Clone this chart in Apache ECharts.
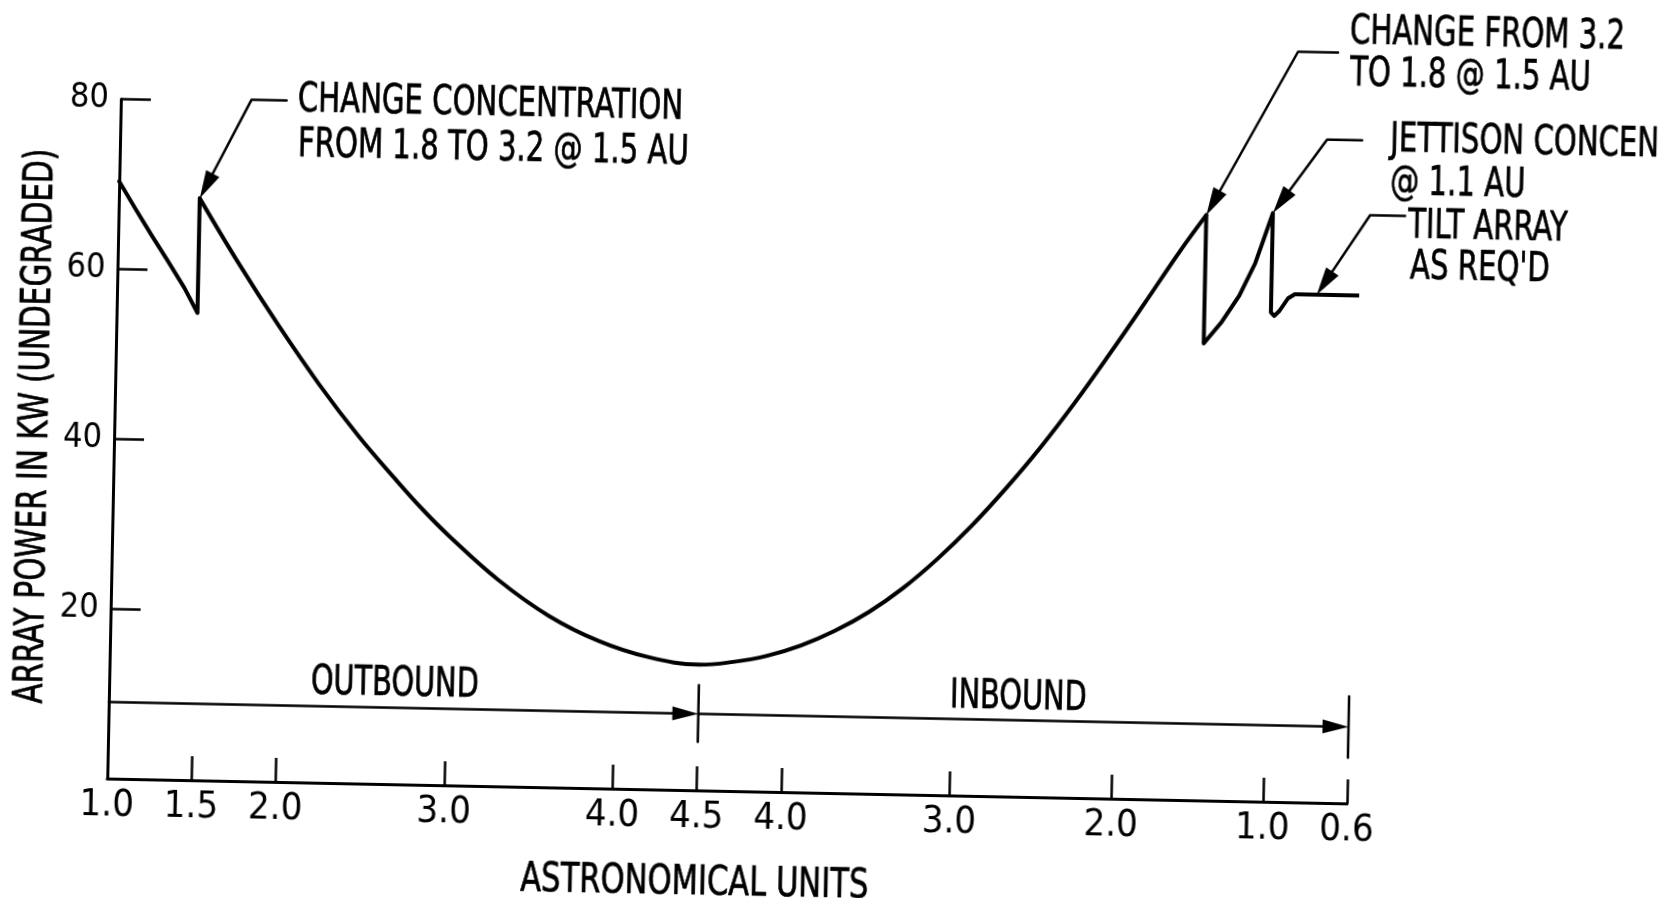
<!DOCTYPE html>
<html><head><meta charset="utf-8">
<script src="https://cdn.jsdelivr.net/npm/echarts@6/dist/echarts.min.js"></script>
<style>
html,body{margin:0;padding:0;background:#fff;overflow:hidden;width:1666px;height:898px;}
#c{position:absolute;left:0;top:0;width:1666px;height:898px;transform:rotate(1.15deg);transform-origin:833px 449px;}
</style></head><body><div id="c"></div>
<script>
// x = position along the trajectory (outbound 1.0 -> 4.5 AU, then inbound 4.5 -> 0.6 AU)
const tickPositions = [0, 0.5, 1, 2, 3, 3.5, 4, 5, 5.96, 6.86, 7.36];
const tickLabels = ['1.0', '1.5', '2.0', '3.0', '4.0', '4.5', '4.0', '3.0', '2.0', '1.0', '0.6'];
const yTickValues = [20, 40, 60, 80];

// array power (kW, undegraded)
const outboundStart = [[0, 70.3], [0.1, 67.1], [0.2, 64.0], [0.3, 61.0], [0.4, 57.9], [0.48, 55.0], [0.48, 68.5]];
const mainCurve = [[0.48, 68.5], [0.72, 60.9], [0.96, 53.8], [1.21, 46.9], [1.45, 40.9], [1.67, 36.0], [1.84, 32.4],
  [2.0, 29.35], [2.3, 24.25], [2.6, 20.2], [2.9, 17.35], [3.2, 15.55], [3.5, 14.8], [3.7, 15.2], [3.9, 16.0],
  [4.1, 17.3], [4.3, 19.1], [4.5, 21.4], [4.7, 24.3], [4.9, 27.8], [5.1, 31.8], [5.3, 36.3], [5.5, 41.2],
  [5.7, 46.6], [5.9, 52.4], [6.1, 58.4], [6.3, 64.5], [6.455, 68.9]];
const inboundEnd = [[6.455, 68.9], [6.455, 53.8], [6.56, 56.4], [6.66, 59.5], [6.75, 63.3], [6.85, 69.3],
  [6.85, 57.6], [6.87, 57.2], [6.9, 57.8], [6.95, 59.3], [6.99, 59.8], [7.41, 59.8]];

// mission phases
const phaseLevel = 9;
const outboundSpan = [0, 3.5];
const inboundSpan = [3.5, 7.36];
const phaseBars = [[3.5, 5.7, 12.4], [7.36, 5.4, 12.6]];

// annotation arrow tips (data) and leader elbows
const annoTips = [[0.48, 68.5], [6.455, 68.9], [6.85, 69.3], [7.12, 59.8]];
const annoLeaders = [[244.7, 279.7, 111.4], [1290, 1330, 42.5], [1320.8, 1355.8, 129.8], [1365.3, 1400.3, 204.5]];
const annoTexts = [
  ['CHANGE CONCENTRATION', 291, 111.7], ['FROM 1.8 TO 3.2 @ 1.5 AU', 292, 156.7],
  ['CHANGE FROM 3.2', 1341.6, 23], ['TO 1.8 @ 1.5 AU', 1342.4, 65],
  ['JETTISON CONCEN', 1384, 130], ['@ 1.1 AU', 1384.7, 173],
  ['TILT ARRAY', 1403.5, 216], ["AS REQ'D", 1406.3, 256.5]
];

const FONT = "'Liberation Sans Narrow','DejaVu Sans Condensed','Arial Narrow',sans-serif";
const chart = echarts.init(document.getElementById('c'), null, {renderer: 'canvas'});
const labelFor = v => { const i = tickPositions.findIndex(p => Math.abs(p - v) < 1e-6); return i >= 0 ? tickLabels[i] : ''; };

const lineSeries = (data, smooth) => ({
  type: 'line', data, smooth, symbol: 'none', showSymbol: false, clip: false, silent: true,
  lineStyle: {color: '#000', width: 4, join: 'round', cap: 'round'}
});

chart.setOption({
  animation: false,
  backgroundColor: '#fff',
  grid: {left: 114, right: 312, top: 113.4, bottom: 105},
  xAxis: {
    type: 'value', min: 0, max: 7.36,
    axisLine: {lineStyle: {color: '#000', width: 3}},
    splitLine: {show: false},
    axisTick: {inside: true, length: 24, customValues: tickPositions, lineStyle: {color: '#000', width: 2.5}},
    axisLabel: {customValues: tickPositions, formatter: labelFor, margin: 8, color: '#000', fontFamily: FONT, fontSize: 38}
  },
  yAxis: {
    type: 'value', min: 0, max: 80, interval: 20,
    axisLine: {show: true, lineStyle: {color: '#000', width: 3}},
    splitLine: {show: false},
    axisTick: {show: true, inside: true, length: 30, customValues: yTickValues, lineStyle: {color: '#000', width: 2.5}},
    axisLabel: {customValues: yTickValues, margin: 12, color: '#000', fontFamily: FONT, fontSize: 34}
  },
  series: [lineSeries(outboundStart, false), lineSeries(mainCurve, 0.4), lineSeries(inboundEnd, false)]
});

const px = p => chart.convertToPixel({seriesIndex: 0}, p);
function arrowHead(tip, from, len, hw) {
  const dx = tip[0] - from[0], dy = tip[1] - from[1], d = Math.hypot(dx, dy);
  const ux = dx / d, uy = dy / d, bx = tip[0] - ux * len, by = tip[1] - uy * len;
  return {
    base: [bx, by],
    el: {type: 'polygon', silent: true, shape: {points: [tip, [bx - uy * hw, by + ux * hw], [bx + uy * hw, by - ux * hw]]}, style: {fill: '#000'}}
  };
}
const els = [];
const stroke = w => ({stroke: '#000', lineWidth: w, fill: null, lineCap: 'round', lineJoin: 'round'});

annoTips.forEach((t, i) => {
  const tip = px(t), L = annoLeaders[i];
  const elbow = [L[0], L[2]];
  const ah = arrowHead(tip, elbow, 28, 7.5);
  els.push({type: 'polyline', silent: true, shape: {points: [[L[1], L[2]], elbow, ah.base]}, style: stroke(2.5)});
  els.push(ah.el);
});

[outboundSpan, inboundSpan].forEach(s => {
  const a = px([s[0], phaseLevel]), b = px([s[1], phaseLevel]);
  const ah = arrowHead(b, a, 26, 7);
  els.push({type: 'polyline', silent: true, shape: {points: [a, ah.base]}, style: stroke(2.5)});
  els.push(ah.el);
});
phaseBars.forEach(b => {
  els.push({type: 'polyline', silent: true, shape: {points: [px([b[0], b[1]]), px([b[0], b[2]])]}, style: stroke(2.5)});
});

const txt = (t, x, y, align, sx, rot, size) => ({
  type: 'text', silent: true, x, y, scaleX: sx, rotation: rot || 0,
  style: {text: t, fill: '#000', stroke: '#000', lineWidth: 0.7, font: (size || 40) + 'px ' + FONT, align, verticalAlign: 'middle'}
});
annoTexts.forEach(a => els.push(txt(a[0], a[1], a[2], 'left', 0.81)));
els.push(txt('OUTBOUND', 399.6, 694, 'center', 0.8));
els.push(txt('INBOUND', 1023.4, 694.5, 'center', 0.8));
els.push(txt('ASTRONOMICAL UNITS', 703, 886.5, 'center', 0.85));
els.push(txt('ARRAY POWER IN KW (UNDEGRADED)', 36, 442.1, 'center', 0.8, Math.PI / 2, 41));

chart.setOption({graphic: {elements: els}});
</script></body></html>
